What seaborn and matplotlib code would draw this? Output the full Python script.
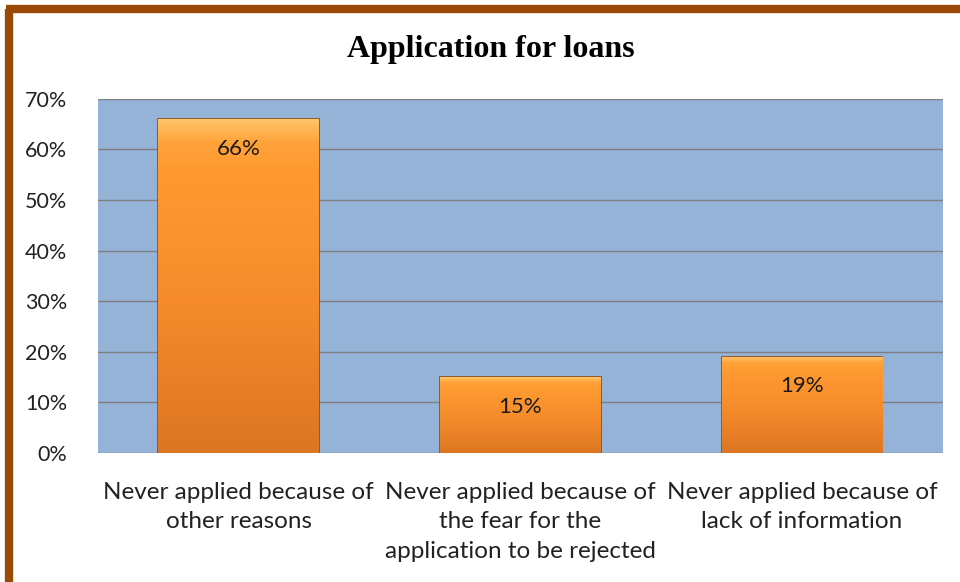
import matplotlib
matplotlib.use('Agg')
import matplotlib.pyplot as plt
import seaborn as sns
import numpy as np
import pandas as pd
from matplotlib.lines import Line2D
from matplotlib.colors import LinearSegmentedColormap

categories = ['Never applied because of\nother reasons',
              'Never applied because of\nthe fear for the\napplication to be rejected',
              'Never applied because of\nlack of information']
values = [66, 15, 19]
yticks = [0, 10, 20, 30, 40, 50, 60, 70]

sns.set_theme(style='white')
plt.rcParams['font.family'] = ['Lato', 'DejaVu Sans']

df = pd.DataFrame({'category': categories, 'value': values})

fig = plt.figure(figsize=(9.6, 5.82), dpi=100)
ax = fig.add_axes([0.102, 0.222, 0.880, 0.608])
ax.set_facecolor('#95B3D7')

sns.barplot(data=df, x='category', y='value', color='#F79A30', width=0.57,
            edgecolor='#8E4A10', linewidth=1.2, ax=ax, zorder=3)

# orange vertical gradient inside each bar, with a light bevel at the top
grad = LinearSegmentedColormap.from_list(
    'org', [(0.0, '#DD7623'), (0.45, '#F58B2B'), (0.85, '#FF9A31'),
            (0.93, '#FFA23A'), (1.0, '#FFC468')])
img = np.linspace(0, 1, 256).reshape(-1, 1)
for p in ax.patches:
    x0, y0 = p.get_x(), p.get_y()
    w, h = p.get_width(), p.get_height()
    im = ax.imshow(img, cmap=grad, aspect='auto', origin='lower',
                   extent=[x0, x0 + w, y0, y0 + h], zorder=3.5)
    im.set_clip_path(p)
ax.set_xlim(-0.5, len(categories) - 0.5)
ax.set_ylim(0, 70)

for p, v in zip(ax.patches, values):
    ax.text(p.get_x() + p.get_width() / 2, v - 3.9, f'{v}%', ha='center', va='top',
            fontsize=16, color='#1a1a1a', zorder=5)

ax.set_yticks(yticks)
ax.set_yticklabels([f'{t}%' for t in yticks], fontsize=15.5, color='#222222')
ax.tick_params(axis='y', pad=22, length=0)
ax.tick_params(axis='x', pad=21, length=0, labelsize=17.5, labelcolor='#222222')
for lab in ax.get_xticklabels():
    lab.set_linespacing(1.5)
ax.yaxis.grid(True, color='#7f7f7f', linewidth=1.0, zorder=1)
ax.set_axisbelow(True)
for s in ax.spines.values():
    s.set_visible(False)
ax.set_xlabel('')
ax.set_ylabel('')

fig.text(0.511, 0.915, 'Application for loans', ha='center', va='center',
         fontsize=23, fontweight='bold', family='Liberation Serif', color='black')

# brown frame on top and left
fig.add_artist(Line2D([0.0095, 0.0095], [0.0, 0.985], color='#9A4A06', linewidth=6,
                      transform=fig.transFigure, solid_capstyle='butt'))
fig.add_artist(Line2D([0.0065, 1.0], [0.984, 0.984], color='#9A4A06', linewidth=6,
                      transform=fig.transFigure, solid_capstyle='butt'))

fig.savefig('out.png', dpi=100, facecolor='white')
